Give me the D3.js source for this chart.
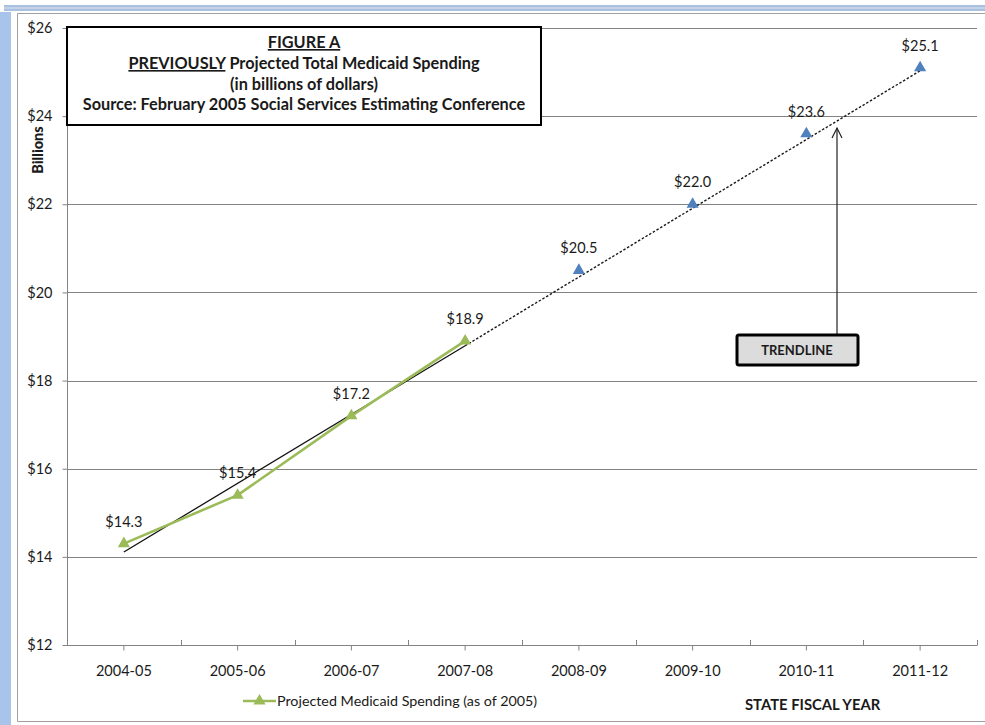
<!DOCTYPE html>
<html>
<head>
<meta charset="utf-8">
<script src="https://cdn.jsdelivr.net/npm/d3@7/dist/d3.min.js"></script>
<style>
  html, body { margin: 0; padding: 0; background: #fff; }
  svg { display: block; }
  text { font-family: Lato, "Open Sans", sans-serif; fill: #1a1a1a; }
</style>
</head>
<body>
<svg id="chart" width="985" height="725"></svg>
<script>
// Fiscal years on the category axis
const years = ["2004-05", "2005-06", "2006-07", "2007-08", "2008-09", "2009-10", "2010-11", "2011-12"];
// Actual/estimated spending (billions) – the plotted green series
const spendingYears = ["2004-05", "2005-06", "2006-07", "2007-08"];
const spendingValues = [14.3, 15.4, 17.2, 18.9];
// Projected values shown as blue markers
const projectedYears = ["2008-09", "2009-10", "2010-11", "2011-12"];
const projectedValues = [20.5, 22.0, 23.6, 25.1];
// Y axis ticks
const yTicks = [12, 14, 16, 18, 20, 22, 24, 26];

const svg = d3.select("#chart");
const W = 985, H = 725;
const plot = { left: 67, right: 977, top: 28, bottom: 645 };

// Window frame decorations
svg.append("rect").attr("x", 4).attr("y", 5).attr("width", W - 4).attr("height", 6).attr("fill", "#a9c0de");
svg.append("line").attr("x1", 4).attr("x2", W).attr("y1", 8).attr("y2", 8).attr("stroke", "#dbe5f3").attr("stroke-width", 1);
svg.append("rect").attr("x", 0).attr("y", 12).attr("width", 11).attr("height", H - 12).attr("fill", "#a9c4ea");
svg.append("path")
  .attr("d", `M${W},13.5 H17.5 V721.5 H${W}`)
  .attr("fill", "none").attr("stroke", "#a0a0a0").attr("stroke-width", 1);

const x = d3.scaleBand().domain(years).range([plot.left, plot.right]).paddingInner(0).paddingOuter(0);
const cx = d => x(d) + x.bandwidth() / 2;
const y = d3.scaleLinear().domain([12, 26]).range([plot.bottom, plot.top]);

const gridColor = "#838383";

// Horizontal gridlines
svg.append("g").selectAll("line").data(yTicks.filter(t => t !== 12)).join("line")
  .attr("x1", plot.left).attr("x2", plot.right)
  .attr("y1", d => Math.round(y(d)) + 0.5).attr("y2", d => Math.round(y(d)) + 0.5)
  .attr("stroke", gridColor).attr("stroke-width", 1);

// Y axis
const yAxis = d3.axisLeft(y).tickValues(yTicks).tickSize(5).tickPadding(10).tickFormat(d => "$" + d);
const gy = svg.append("g").attr("transform", `translate(${plot.left + 0.5},0)`).call(yAxis);
gy.select(".domain").attr("stroke", gridColor).attr("d", `M0,${plot.top} V${plot.bottom}`);
gy.selectAll(".tick line").attr("stroke", gridColor);
gy.selectAll(".tick text").attr("font-size", 14.5).attr("fill", "#1a1a1a").style("font-family", "Lato, 'Open Sans', sans-serif");

// X axis: category labels with outward ticks at centres
const xAxis = d3.axisBottom(x).tickSize(5).tickPadding(15);
const gx = svg.append("g").attr("transform", `translate(0,${plot.bottom + 0.5})`).call(xAxis);
gx.select(".domain").attr("stroke", gridColor).attr("d", `M${plot.left},0 H${plot.right}`);
gx.selectAll(".tick line").attr("stroke", gridColor);
gx.selectAll(".tick text").attr("font-size", 14.5).attr("fill", "#1a1a1a").style("font-family", "Lato, 'Open Sans', sans-serif");
// Inward ticks at category boundaries
const bounds = years.map(d => x(d)).concat([plot.right]);
svg.append("g").selectAll("line").data(bounds).join("line")
  .attr("x1", d => Math.round(d) + 0.5).attr("x2", d => Math.round(d) + 0.5)
  .attr("y1", plot.bottom - 5).attr("y2", plot.bottom + 0.5)
  .attr("stroke", gridColor);

// Linear trend fitted to the spending series
const idx = spendingYears.map(d => years.indexOf(d));
const mx = d3.mean(idx), my = d3.mean(spendingValues);
const slope = d3.sum(idx.map((v, i) => (v - mx) * (spendingValues[i] - my))) / d3.sum(idx.map(v => (v - mx) ** 2));
const intercept = my - slope * mx;
const trendAt = i => intercept + slope * i;
const posX = i => cx(years[0]) + i * x.bandwidth();

const lastFit = idx[idx.length - 1];
const lastYear = years.length - 1;
svg.append("line")
  .attr("x1", posX(0)).attr("y1", y(trendAt(0)))
  .attr("x2", posX(lastFit)).attr("y2", y(trendAt(lastFit)))
  .attr("stroke", "#111").attr("stroke-width", 1.3);
svg.append("line")
  .attr("x1", posX(lastFit)).attr("y1", y(trendAt(lastFit)))
  .attr("x2", posX(lastYear)).attr("y2", y(trendAt(lastYear)))
  .attr("stroke", "#1a1a1a").attr("stroke-width", 1.4).attr("stroke-dasharray", "2.5,1.8");

// Spending line
const green = "#9bbb59";
const blue = "#4f81bd";
const spending = spendingYears.map((d, i) => ({ year: d, value: spendingValues[i] }));
const projected = projectedYears.map((d, i) => ({ year: d, value: projectedValues[i] }));

svg.append("path").datum(spending)
  .attr("d", d3.line().x(d => cx(d.year)).y(d => y(d.value)))
  .attr("fill", "none").attr("stroke", green).attr("stroke-width", 2.6).attr("stroke-linejoin", "round");

const tri = d3.symbol().type(d3.symbolTriangle).size(64);
svg.append("g").selectAll("path").data(spending).join("path")
  .attr("d", tri).attr("transform", d => `translate(${cx(d.year)},${y(d.value)})`)
  .attr("fill", green);
svg.append("g").selectAll("path").data(projected).join("path")
  .attr("d", tri).attr("transform", d => `translate(${cx(d.year)},${y(d.value)})`)
  .attr("fill", blue);

// Value labels
svg.append("g").selectAll("text").data(spending.concat(projected)).join("text")
  .attr("x", d => cx(d.year)).attr("y", d => y(d.value) - 17)
  .attr("text-anchor", "middle").attr("font-size", 14.5)
  .text(d => "$" + d.value.toFixed(1));

// Y axis title
svg.append("text")
  .attr("transform", "translate(43,150) rotate(-90)")
  .attr("text-anchor", "middle").attr("font-size", 14.5).attr("font-weight", 900)
  .text("Billions");

// Title box
const tb = { x: 67, y: 27, w: 474, h: 98 };
svg.append("rect").attr("x", tb.x).attr("y", tb.y).attr("width", tb.w).attr("height", tb.h)
  .attr("fill", "#fff").attr("stroke", "#000").attr("stroke-width", 2);
const tcx = tb.x + tb.w / 2;
const titleG = svg.append("g").attr("font-size", 16.3).attr("font-weight", "bold").attr("text-anchor", "middle");
titleG.append("text").attr("x", tcx).attr("y", 48).attr("text-decoration", "underline").text("FIGURE A");
const t2 = titleG.append("text").attr("x", tcx).attr("y", 69);
t2.append("tspan").attr("text-decoration", "underline").text("PREVIOUSLY");
t2.append("tspan").text(" Projected Total Medicaid Spending");
titleG.append("text").attr("x", tcx).attr("y", 90).text("(in billions of dollars)");
titleG.append("text").attr("x", tcx).attr("y", 110).text("Source: February 2005 Social Services Estimating Conference");

// Trendline callout
const ax = 837;
svg.append("line").attr("x1", ax).attr("x2", ax).attr("y1", 128).attr("y2", 335)
  .attr("stroke", "#222").attr("stroke-width", 1.2);
svg.append("path").attr("d", `M${ax - 5},${138} L${ax},${128} L${ax + 5},${138}`)
  .attr("fill", "none").attr("stroke", "#222").attr("stroke-width", 1.2);
svg.append("rect").attr("x", 737).attr("y", 335).attr("width", 121).attr("height", 30)
  .attr("fill", "#dcdcdc").attr("stroke", "#000").attr("stroke-width", 3).attr("rx", 2);
svg.append("text").attr("x", 797).attr("y", 355).attr("text-anchor", "middle")
  .attr("font-size", 13).attr("font-weight", "bold").text("TRENDLINE");

// Legend
const lg = svg.append("g").attr("transform", "translate(243,701)");
lg.append("line").attr("x1", 0).attr("x2", 33).attr("stroke", green).attr("stroke-width", 2.6);
lg.append("path").attr("d", tri).attr("transform", "translate(16.5,0)").attr("fill", green);
lg.append("text").attr("x", 34).attr("y", 5).attr("font-size", 14.3).text("Projected Medicaid Spending (as of 2005)");

// X axis title
svg.append("text").attr("x", 745).attr("y", 710).attr("font-size", 14.8).attr("font-weight", "bold")
  .text("STATE FISCAL YEAR");
</script>
</body>
</html>
